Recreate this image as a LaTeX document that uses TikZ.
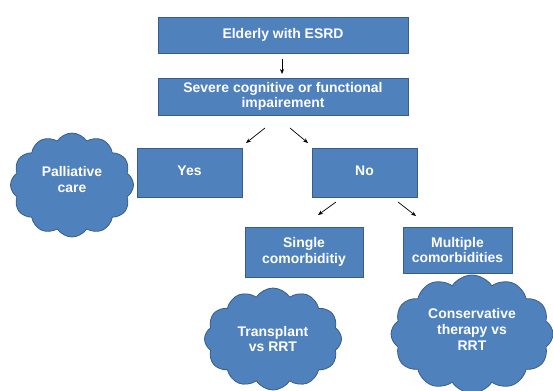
\documentclass[tikz,border=0pt]{standalone}
\usepackage{fontspec}
\setmainfont{Liberation Sans}
\usetikzlibrary{shapes.symbols,arrows.meta}
\definecolor{boxfill}{HTML}{4F81BD}
\definecolor{boxline}{HTML}{385D8A}
\tikzset{
  blockbox/.style={draw=boxline, line width=0.8bp, fill=boxfill, text=white,
    font=\fontsize{14}{15.5}\selectfont\bfseries, align=center, inner sep=0pt},
  puff/.style={cloud, cloud puffs=12, cloud puff arc=115, aspect=1.2, draw=boxline, line width=0.8bp,
    fill=boxfill, text=white, font=\fontsize{14}{16}\selectfont\bfseries, align=center, inner sep=0pt},
  arr/.style={-{Stealth[length=5bp,width=4bp]}, line width=0.7bp, black}
}
\begin{document}
\begin{tikzpicture}[x=1bp,y=-1bp]
\useasboundingbox (0,0) rectangle (553,390);
\clip (0,0) rectangle (553,390);
\node[blockbox, minimum width=250bp, minimum height=36bp] (elder) at (283,35) {\raisebox{-2bp}{Elderly with ESRD}};
\node[blockbox, minimum width=250bp, minimum height=37bp] (sev) at (283,96.5) {Severe cognitive or functional\\impairement};
\node[blockbox, minimum width=105bp, minimum height=49bp] (yes) at (189.5,172.5) {\raisebox{4bp}{Yes}};
\node[blockbox, minimum width=105bp, minimum height=49bp] (no) at (364.5,172.5) {\raisebox{4bp}{No}};
\node[blockbox, minimum width=118bp, minimum height=50bp] (single) at (304,252) {Single\\comorbiditiy};
\node[blockbox, minimum width=109bp, minimum height=46bp] (multi) at (457.5,250) {Multiple\\comorbidities};
\node[puff, minimum width=123bp, minimum height=104bp] (pall) at (72,185) {Palliative\\care\\[-4bp]};
\node[puff, minimum width=137bp, minimum height=102bp] (trans) at (273,339) {Transplant\\vs RRT};
\node[puff, minimum width=162bp, minimum height=118bp] (cons) at (472,334) {Conservative\\therapy vs\\RRT\\[-6bp]};
\coordinate (a1s) at (282,59); \coordinate (a1e) at (282,74);
\draw[arr] (a1s) -- (a1e);
\coordinate (a2s) at (265,128); \coordinate (a2e) at (246,143);
\draw[arr] (a2s) -- (a2e);
\coordinate (a3s) at (290,128); \coordinate (a3e) at (308,143);
\draw[arr] (a3s) -- (a3e);
\coordinate (a4s) at (336,202); \coordinate (a4e) at (318,215);
\draw[arr] (a4s) -- (a4e);
\coordinate (a5s) at (398,202); \coordinate (a5e) at (416,216);
\draw[arr] (a5s) -- (a5e);
\end{tikzpicture}
\end{document}
